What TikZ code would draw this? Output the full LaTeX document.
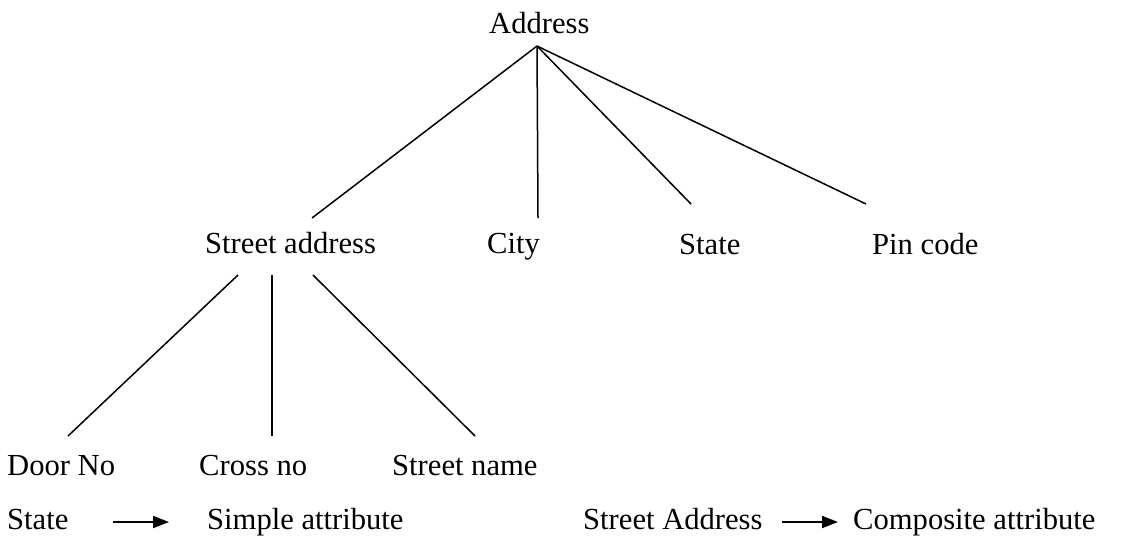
\documentclass[tikz,border=0pt]{standalone}
\usepackage{fontspec}
\setmainfont{Liberation Serif}
\usetikzlibrary{arrows.meta}
\begin{document}
\begin{tikzpicture}[x=1pt,y=-1pt,
  lbl/.style={anchor=base west,inner sep=0pt,font=\fontsize{30.6}{36}\selectfont},
  edge/.style={line width=1.5pt},
  legendarrow/.style={line width=1.8pt,-{Triangle[length=16pt,width=12pt]}}]
\useasboundingbox (0,0) rectangle (1139,539);
% attribute labels
\node[lbl] (addr) at (489,33) {Address};
\node[lbl] (street) at (205,253) {Street address};
\node[lbl] (city) at (487,253) {City};
\node[lbl] (state) at (679,254) {State};
\node[lbl] (pin) at (872,254) {Pin code};
\node[lbl] (door) at (7,475) {Door No};
\node[lbl] (cross) at (199,475) {Cross no};
\node[lbl] (sname) at (392,475) {Street name};
% legend
\node[lbl] (lgstate) at (7,529) {State};
\node[lbl] (lgsimple) at (207,529) {Simple attribute};
\node[lbl] (lgstreet) at (583,529) {Street Address};
\node[lbl] (lgcomp) at (853,529) {Composite attribute};
% connector end points
\coordinate (addrfoot) at (537,46);
\coordinate (streethead) at (312,218);
\coordinate (cityhead) at (538,218);
\coordinate (statehead) at (691,204);
\coordinate (pinhead) at (866,204);
\coordinate (streetfootA) at (238,275);
\coordinate (streetfootB) at (272,275);
\coordinate (streetfootC) at (313,275);
\coordinate (doorhead) at (68,436);
\coordinate (crosshead) at (272,436);
\coordinate (snamehead) at (475,436);
% tree edges
\draw[edge] (addrfoot) -- (streethead);
\draw[edge] (addrfoot) -- (cityhead);
\draw[edge] (addrfoot) -- (statehead);
\draw[edge] (addrfoot) -- (pinhead);
\draw[edge] (streetfootA) -- (doorhead);
\draw[edge] (streetfootB) -- (crosshead);
\draw[edge] (streetfootC) -- (snamehead);
% legend arrows
\coordinate (la1) at (113,522);
\coordinate (la2) at (169,522);
\coordinate (lb1) at (782,522);
\coordinate (lb2) at (838,522);
\draw[legendarrow] (la1) -- (la2);
\draw[legendarrow] (lb1) -- (lb2);
\end{tikzpicture}
\end{document}
